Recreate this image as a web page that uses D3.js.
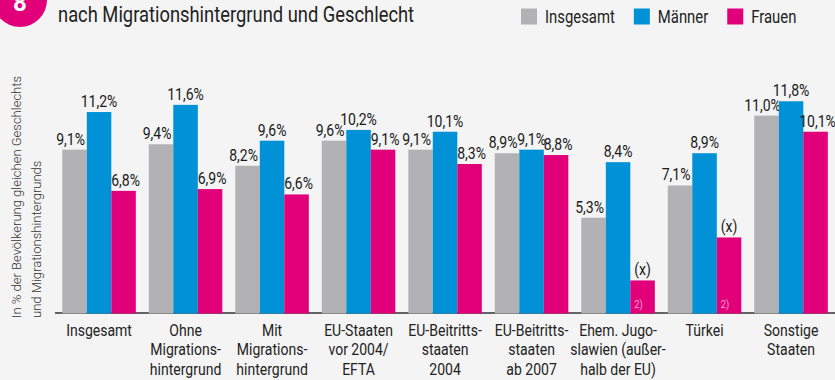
<!DOCTYPE html>
<html>
<head>
<meta charset="utf-8">
<script src="https://cdn.jsdelivr.net/npm/d3@7"></script>
<style>
  html, body { margin: 0; padding: 0; background: #f4f4f4; }
  svg { display: block; }
  text { font-family: Roboto, "Noto Sans", sans-serif; }
</style>
</head>
<body>
<svg id="chart" width="835" height="380"></svg>
<script>
// Categories (multi-line labels split on "|")
const categories = [
  "Insgesamt",
  "Ohne|Migrations-|hintergrund",
  "Mit|Migrations-|hintergrund",
  "EU-Staaten|vor 2004/|EFTA",
  "EU-Beitritts-|staaten|2004",
  "EU-Beitritts-|staaten|ab 2007",
  "Ehem. Jugo-|slawien (außer-|halb der EU)",
  "Türkei",
  "Sonstige|Staaten"
];
const seriesNames = ["Insgesamt", "Männer", "Frauen"];
const insgesamt = [9.1, 9.4, 8.2, 9.6, 9.1, 8.9, 5.3, 7.1, 11.0];
const maenner   = [11.2, 11.6, 9.6, 10.2, 10.1, 9.1, 8.4, 8.9, 11.8];
const frauen    = [6.8, 6.9, 6.6, 9.1, 8.3, 8.8, 1.8, 4.2, 10.1];
// Values that are not published: shown as "(x)" with footnote 2)
const frauenSuppressed = [false, false, false, false, false, false, true, true, false];
const footnote = "2)";

const colors = ["#b2b2b4", "#0091d6", "#e2007a"];
const series = [insgesamt, maenner, frauen];

// Horizontal squeeze giving Roboto a condensed look
const SX = 0.85;

const svg = d3.select("#chart");
const fmt = v => d3.format(".1f")(v).replace(".", ",") + "%";
const place = (sel, x, y) => sel.attr("transform", `translate(${x},${y}) scale(${SX},1)`);

const x0 = d3.scaleBand().domain(d3.range(categories.length))
  .range([55.8, 834.3]).paddingInner(0.15).paddingOuter(0.075);
const x1 = d3.scaleBand().domain(d3.range(seriesNames.length))
  .range([0, x0.bandwidth()]).padding(0);
const y = d3.scaleLinear().domain([0, 12]).range([312.7, 97.7]);

// Baseline
svg.append("line")
  .attr("x1", 55).attr("x2", 835)
  .attr("y1", 313).attr("y2", 313)
  .attr("stroke", "#333").attr("stroke-width", 1.6);

// Bars
const groups = svg.selectAll("g.grp").data(categories).join("g")
  .attr("class", "grp")
  .attr("transform", (d, i) => `translate(${x0(i)},0)`);

const labelShift = [-4, 0, 2];
groups.each(function (c, i) {
  const g = d3.select(this);
  series.forEach((s, k) => {
    const v = s[i];
    g.append("rect")
      .attr("x", x1(k)).attr("width", x1.bandwidth())
      .attr("y", y(v)).attr("height", y(0) - y(v) + 0.8)
      .attr("fill", colors[k]);
    const suppressed = k === 2 && frauenSuppressed[i];
    g.append("text")
      .call(place, x1(k) + x1.bandwidth() / 2 + (suppressed ? 0 : labelShift[k]), y(v) - 5)
      .attr("text-anchor", "middle")
      .attr("font-size", 16.5)
      .attr("fill", "#1a1a1a")
      .text(suppressed ? "(x)" : fmt(v));
    if (suppressed) {
      g.append("text")
        .call(place, x1(k) + x1.bandwidth() / 2 - 4, 308)
        .attr("text-anchor", "middle")
        .attr("font-size", 11)
        .attr("fill", "#f7a3cf")
        .text(footnote);
    }
  });
  // Category label
  const t = g.append("text")
    .call(place, x0.bandwidth() / 2, 336)
    .attr("text-anchor", "middle")
    .attr("font-size", 16.5)
    .attr("fill", "#222");
  c.split("|").forEach((line, j) => {
    t.append("tspan").attr("x", 0)
      .attr("dy", j === 0 ? 0 : 19.5).text(line);
  });
});

// Y-axis caption
const cap = svg.append("text")
  .attr("transform", "translate(21,318) rotate(-90)")
  .attr("font-size", 13)
  .attr("font-weight", 300)
  .attr("fill", "#333");
cap.append("tspan").attr("x", 0).attr("y", 0).text("In % der Bevölkerung gleichen Geschlechts");
cap.append("tspan").attr("x", 0).attr("y", 20).text("und Migrationshintergrunds");

// Figure number badge and title
svg.append("circle").attr("cx", 20).attr("cy", 0).attr("r", 27).attr("fill", "#e2007a");
svg.append("text").attr("x", 20).attr("y", 11)
  .attr("text-anchor", "middle").attr("font-size", 24).attr("font-weight", 700)
  .attr("fill", "#fff").text("8");
svg.append("text").call(place, 58, 21.7)
  .attr("font-size", 21.6).attr("fill", "#222")
  .text("nach Migrationshintergrund und Geschlecht");

// Legend
let lx = 521;
seriesNames.forEach((name, k) => {
  svg.append("rect").attr("x", lx).attr("y", 8.5).attr("width", 16).attr("height", 16)
    .attr("fill", colors[k]);
  const t = svg.append("text").call(place, lx + 24, 22.7)
    .attr("font-size", 17.5).attr("fill", "#222").text(name);
  lx += 24 + t.node().getComputedTextLength() * SX + 19;
});
</script>
</body>
</html>
